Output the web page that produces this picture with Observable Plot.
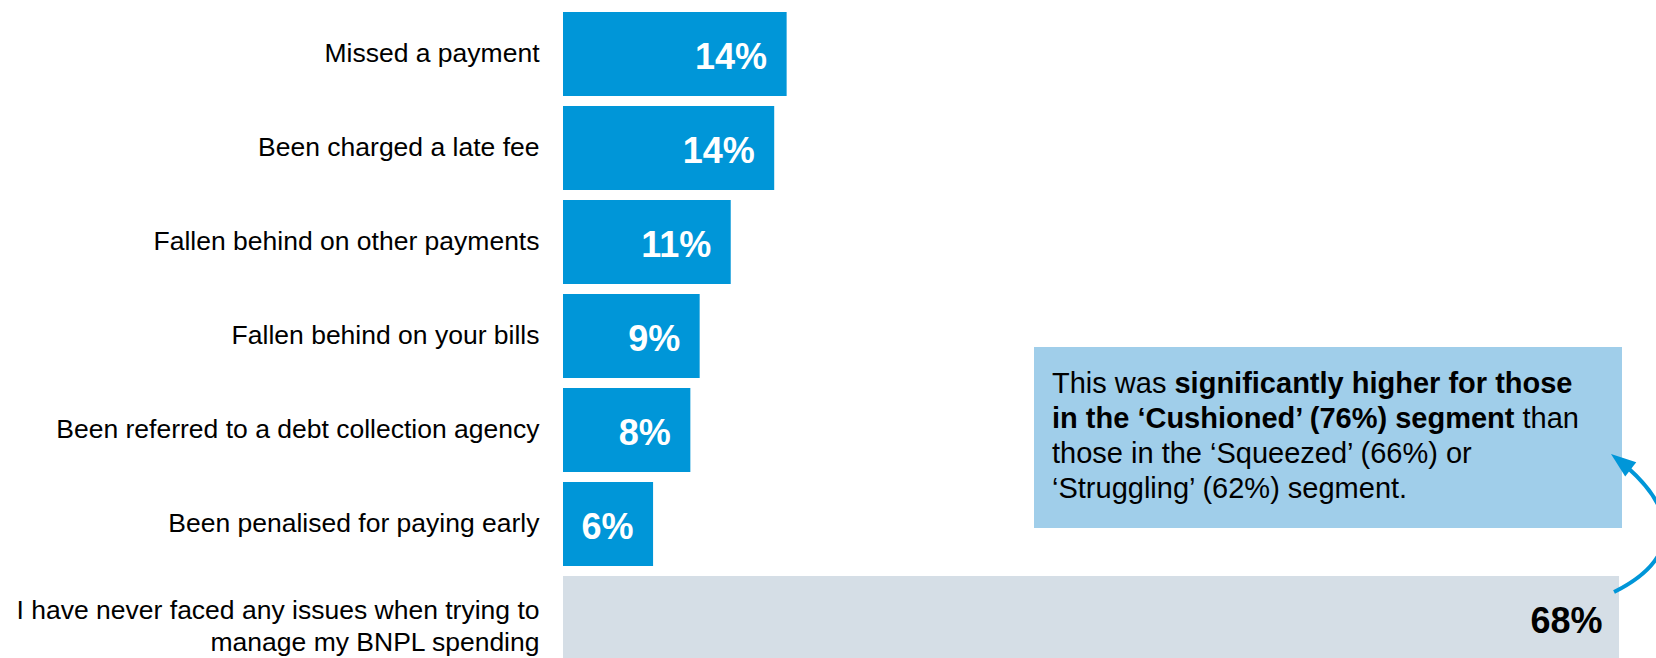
<!DOCTYPE html>
<html>
<head>
<meta charset="utf-8">
<script src="https://cdn.jsdelivr.net/npm/d3@7"></script>
<script src="https://cdn.jsdelivr.net/npm/@observablehq/plot@0.6"></script>
<style>
  html, body { margin: 0; padding: 0; background: #ffffff; overflow: hidden; }
  #chart svg { display: block; font-family: "Liberation Sans", Arial, sans-serif; }
</style>
</head>
<body>
<div id="chart"></div>
<script>
// Issues faced when managing BNPL spending (share of respondents, %)
const categories = [
  "Missed a payment",
  "Been charged a late fee",
  "Fallen behind on other payments",
  "Fallen behind on your bills",
  "Been referred to a debt collection agency",
  "Been penalised for paying early",
  "I have never faced any issues when trying to\nmanage my BNPL spending"
];
const values = [14.4, 13.6, 10.8, 8.8, 8.2, 5.8, 68];
const groups = ["issue", "issue", "issue", "issue", "issue", "issue", "none"];

const groupColors = ["#0096D8", "#D5DEE6"];
const calloutLines = [
  [["This was ", false], ["significantly higher for those", true]],
  [["in the \u2018Cushioned\u2019 (76%) segment", true], [" than", false]],
  [["those in the \u2018Squeezed\u2019 (66%) or", false]],
  [["\u2018Struggling\u2019 (62%) segment.", false]]
];

const data = categories.map((c, i) => ({category: c, value: values[i], group: groups[i]}));
const issues = data.filter(d => d.group === "issue");
const none = data.filter(d => d.group === "none");
const pct = d => `${Math.round(d.value)}%`;

const chart = Plot.plot({
  width: 1656,
  height: 667,
  marginLeft: 563,
  marginRight: 0,
  marginTop: 5,
  marginBottom: 0,
  style: {fontFamily: "'Liberation Sans', Arial, sans-serif", background: "#ffffff"},
  x: {domain: [0, 70.38], axis: null},
  y: {domain: categories, axis: null, paddingInner: 0.1058, paddingOuter: 0.0529},
  color: {domain: ["issue", "none"], range: groupColors},
  marks: [
    Plot.barX(data, {x: "value", y: "category", fill: "group"}),
    // category labels left of the bars
    Plot.text(issues, {x: 0, y: "category", text: "category", textAnchor: "end", dx: -24, dy: -3,
      fontSize: 26.5, fill: "#000000", lineHeight: 1.21}),
    Plot.text(none, {x: 0, y: "category", text: "category", textAnchor: "end", dx: -24, dy: 6,
      fontSize: 26.5, fill: "#000000", lineHeight: 1.21}),
    // value labels inside the bars
    Plot.text(issues, {x: "value", y: "category", text: pct, textAnchor: "end", dx: -20, dy: 3,
      fontSize: 36, fontWeight: "bold", fill: "#ffffff"}),
    Plot.text(none, {x: "value", y: "category", text: pct, textAnchor: "end", dx: -17, dy: 3,
      fontSize: 36, fontWeight: "bold", fill: "#000000"})
  ]
});

document.getElementById("chart").appendChild(chart);

// Callout box with the segment breakdown
const svg = d3.select(chart);
const box = {x: 1034, y: 347, w: 588, h: 181};
svg.append("rect")
  .attr("x", box.x).attr("y", box.y).attr("width", box.w).attr("height", box.h)
  .attr("fill", "#A0CEEA");
const t = svg.append("text")
  .attr("font-size", 29)
  .attr("text-anchor", "start")
  .attr("fill", "#000000");
calloutLines.forEach((line, i) => {
  line.forEach(([s, bold], j) => {
    const ts = t.append("tspan").text(s).attr("font-weight", bold ? "bold" : "normal")
      .style("white-space", "pre");
    if (j === 0) ts.attr("x", box.x + 18).attr("y", box.y + 46 + i * 35);
  });
});

// Curved arrow from the "never faced issues" bar up to the callout
const xs = chart.scale("x"), ys = chart.scale("y");
const last = categories[categories.length - 1];
const tail = [xs.apply(68) - 5, ys.apply(last) + 16];
const tip = [box.x + box.w - 11, box.y + box.h - 74];
const arc = svg.append("path")
  .attr("d", `M${tail[0]},${tail[1]}C${tail[0] + 66},${tail[1] - 33} ${tip[0] + 74},${tip[1] + 56} ${tip[0]},${tip[1]}`)
  .attr("fill", "none")
  .attr("stroke", "#0096D8")
  .attr("stroke-width", 4);
const len = arc.node().getTotalLength();
const headLen = 25, headHalf = 9;
arc.attr("stroke-dasharray", `${len - headLen + 4} ${len}`);
const p0 = arc.node().getPointAtLength(len - 8);
const p1 = arc.node().getPointAtLength(len);
const ang = Math.atan2(p1.y - p0.y, p1.x - p0.x);
const bx = tip[0] - headLen * Math.cos(ang), by = tip[1] - headLen * Math.sin(ang);
const nx = -Math.sin(ang), ny = Math.cos(ang);
svg.append("path")
  .attr("d", `M${tip[0]},${tip[1]}L${bx + headHalf * nx},${by + headHalf * ny}L${bx - headHalf * nx},${by - headHalf * ny}Z`)
  .attr("fill", "#0096D8");
</script>
</body>
</html>
